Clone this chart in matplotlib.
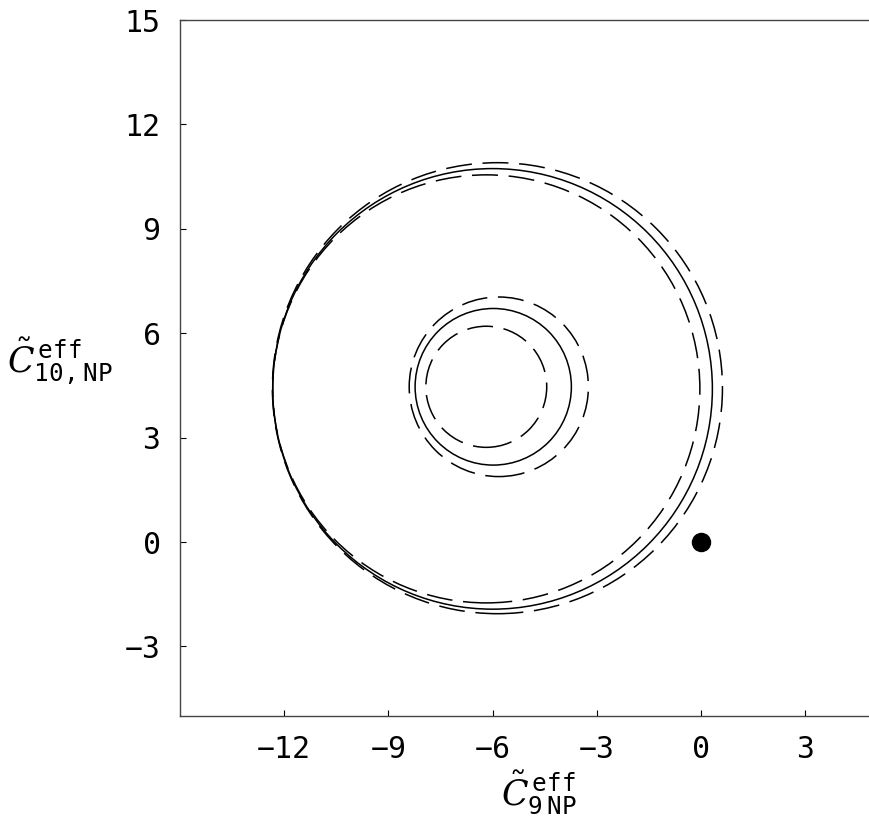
import matplotlib
matplotlib.use('Agg')
from matplotlib import pyplot as plt
from matplotlib.patches import Circle

plt.rcParams['mathtext.fontset'] = 'dejavuserif'

# circles: centre (x, y), radius, style
centres_x = [-6.00, -5.86, -6.18, -5.98, -5.82, -6.18]
centres_y = [4.40, 4.42, 4.40, 4.46, 4.46, 4.46]
radii = [6.33, 6.48, 6.15, 2.25, 2.58, 1.74]
styles = ['solid', 'dashed', 'dashed', 'solid', 'dashed', 'dashed']

# standard model point
sm_x = [0]
sm_y = [0]

x_ticks = [-12, -9, -6, -3, 0, 3]
y_ticks = [-3, 0, 3, 6, 9, 12, 15]

fig = plt.figure(figsize=(8.69, 8.26), dpi=100)
ax = fig.add_axes([180 / 869, 1 - 716 / 826, 689 / 869, 696 / 826])

for cx, cy, r, st in zip(centres_x, centres_y, radii, styles):
    c = Circle((cx, cy), r, fill=False, color='black', lw=1.1)
    if st == 'dashed':
        c.set_linestyle((0, (17, 7)))
    ax.add_patch(c)

ax.plot(sm_x, sm_y, 'o', color='black', markersize=13)

ax.set_xlim(-15, 4.84)
ax.set_ylim(-5, 15)
ax.set_xticks(x_ticks)
ax.set_yticks(y_ticks)
ax.set_xticklabels(['\u2212' + str(-t) if t < 0 else str(t) for t in x_ticks])
ax.set_yticklabels(['\u2212' + str(-t) if t < 0 else str(t) for t in y_ticks])

ax.tick_params(direction='in', length=4, width=0.8, labelsize=21.5, pad=14)
for lab in ax.get_xticklabels() + ax.get_yticklabels():
    lab.set_family('DejaVu Sans Mono')

ax.spines['right'].set_visible(False)
for s in ['left', 'bottom', 'top']:
    ax.spines[s].set_color('#444444')
    ax.spines[s].set_linewidth(1.0)

ax.set_xlabel(r'$\tilde{C}^{\,\mathtt{eff}}_{\mathtt{9\,NP}}$', fontsize=25, labelpad=0)
ax.xaxis.set_label_coords(0.52, -0.075)
ax.set_ylabel(r'$\tilde{C}^{\,\mathtt{eff}}_{\mathtt{10,NP}}$', fontsize=25,
              rotation=0, va='center', ha='center')
ax.yaxis.set_label_coords(-0.175, 0.51)

fig.savefig('out.png', dpi=100)
